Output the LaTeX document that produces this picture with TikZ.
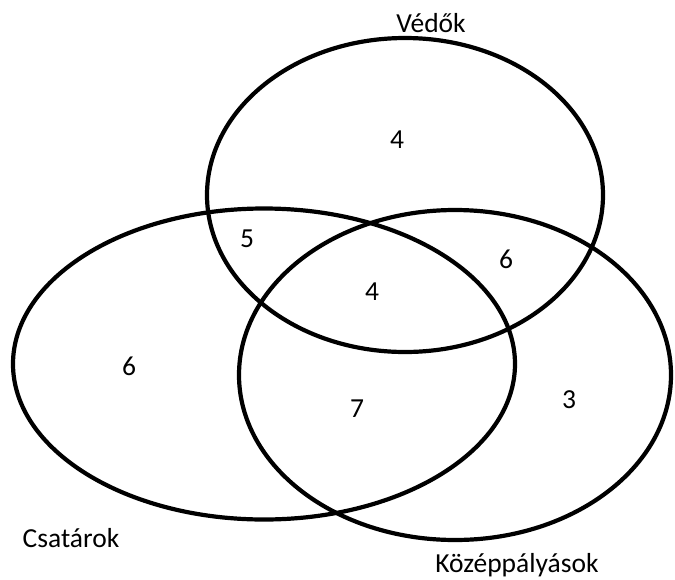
\documentclass[tikz,border=0pt]{standalone}
\usepackage{fontspec}
\setmainfont{Carlito}
\usetikzlibrary{shapes.geometric}

\tikzset{
    halmaz/.style={draw, ellipse, line width=4.2pt, inner sep=0pt},
    szam/.style={anchor=base, inner sep=0pt},
}

\begin{document}
\begin{tikzpicture}[x=1pt, y=-1pt, font=\fontsize{27.5}{33}\selectfont]

        % 0. Cornice fissa della figura
        \useasboundingbox (0,0) rectangle (675,579);

        % 1. Le tre ellissi (insiemi)
        \node[halmaz, minimum width=396pt, minimum height=314pt] (vedok) at (405,195) {};
        \node[halmaz, minimum width=502pt, minimum height=311pt] (csatarok) at (264,364) {};
        \node[halmaz, minimum width=432pt, minimum height=330pt] (kozep) at (455,375) {};

        % 2. Nomi degli insiemi
        \node[szam] (nvedok) at (431,32) {Védők};
        \node[szam] (ncsatarok) at (71,547) {Csatárok};
        \node[szam] (nkozep) at (517,572) {Középpályások};

        % 3. Numeri nelle regioni
        \node[szam] (csakv) at (397,148) {4};
        \node[szam] (vcs) at (247,247) {5};
        \node[szam] (vk) at (506,268) {6};
        \node[szam] (mind) at (372,300) {4};
        \node[szam] (csakcs) at (129,375) {6};
        \node[szam] (csk) at (357,417) {7};
        \node[szam] (csakk) at (569,408) {3};

    \end{tikzpicture}
\end{document}
